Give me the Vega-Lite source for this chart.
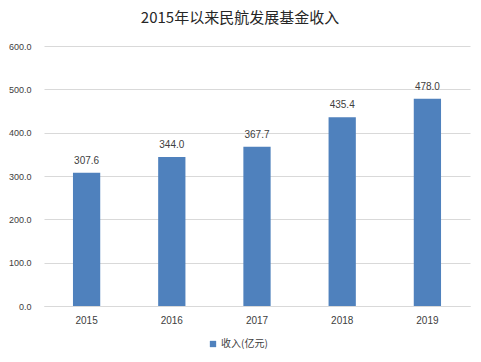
{
  "$schema": "https://vega.github.io/schema/vega-lite/v6.json",
  "autosize": "none",
  "width": 426,
  "height": 260,
  "padding": {"left": 44, "top": 46, "right": 11, "bottom": 56},
  "background": "white",
  "title": {
    "text": "2015年以来民航发展基金收入",
    "font": "Noto Sans CJK SC",
    "fontSize": 15,
    "fontWeight": "normal",
    "color": "#262626",
    "anchor": "middle",
    "dx": -17,
    "offset": 16
  },
  "data": {
    "values": [
      {"year": "2015", "value": 307.6, "series": "收入(亿元)"},
      {"year": "2016", "value": 344.0, "series": "收入(亿元)"},
      {"year": "2017", "value": 367.7, "series": "收入(亿元)"},
      {"year": "2018", "value": 435.4, "series": "收入(亿元)"},
      {"year": "2019", "value": 478.0, "series": "收入(亿元)"}
    ]
  },
  "encoding": {
    "x": {
      "field": "year",
      "type": "nominal",
      "scale": {"paddingInner": 0.68, "paddingOuter": 0.34},
      "axis": {
        "title": null,
        "labelAngle": 0,
        "ticks": false,
        "domainColor": "#D9D9D9",
        "labelFont": "Liberation Sans",
        "labelFontSize": 10,
        "labelColor": "#404040",
        "labelPadding": 9
      }
    },
    "y": {
      "field": "value",
      "type": "quantitative",
      "scale": {"domain": [0, 600]},
      "axis": {
        "title": null,
        "values": [0, 100, 200, 300, 400, 500, 600],
        "format": ".1f",
        "ticks": false,
        "domain": false,
        "gridColor": "#D9D9D9",
        "labelFont": "Liberation Sans",
        "labelFontSize": 9,
        "labelColor": "#404040",
        "labelPadding": 13
      }
    }
  },
  "layer": [
    {
      "mark": {"type": "bar", "color": "#4F81BD"},
      "encoding": {
        "color": {
          "field": "series",
          "type": "nominal",
          "scale": {"range": ["#4F81BD"]},
          "legend": {
            "title": null,
            "orient": "none",
            "legendX": 164,
            "legendY": 293,
            "symbolType": "square",
            "symbolSize": 40,
            "labelFont": "Noto Sans CJK SC",
            "labelFontSize": 10,
            "labelColor": "#404040",
            "labelOffset": 3
          }
        }
      }
    },
    {
      "mark": {
        "type": "text",
        "baseline": "bottom",
        "dy": -7,
        "font": "Liberation Sans",
        "fontSize": 10,
        "color": "#404040"
      },
      "encoding": {
        "text": {"field": "value", "type": "quantitative", "format": ".1f"}
      }
    }
  ],
  "config": {"view": {"stroke": null}}
}
